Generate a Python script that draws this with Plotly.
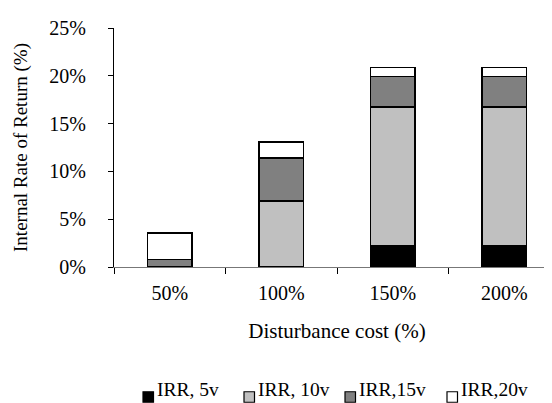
import plotly.graph_objects as go

categories = ["50%", "100%", "150%", "200%"]
irr_5v = [0.0, 0.0, 2.27, 2.27]
irr_10v = [0.0, 6.91, 14.48, 14.48]
irr_15v = [0.80, 4.47, 3.19, 3.19]
irr_20v = [2.76, 1.68, 0.94, 0.94]
series_names = ["IRR, 5v", "IRR, 10v", "IRR,15v", "IRR,20v"]
colors = ["#000000", "#c0c0c0", "#808080", "#ffffff"]

W, H = 552, 403
ML, MR, MT, MB = 106, 0, 20, 144
PW, PH = W - ML - MR, H - MT - MB

fig = go.Figure()
for name, vals, col in zip(series_names, [irr_5v, irr_10v, irr_15v, irr_20v], colors):
    fig.add_trace(go.Bar(
        x=categories, y=vals, name=name, showlegend=False,
        marker=dict(color=col, line=dict(color="#000000", width=1.5)),
    ))

font = "Liberation Serif, Times New Roman, serif"

# Manual compact legend row (Excel style)
leg_size = 19.5
leg_square_left = [135, 236, 337, 439]   # px, left edge of each key square
sq_yc = 389.0
txt_yc = 382.0
sq = 10.5

def px2x(px):
    return (px - ML) / PW

def py2y(py):
    return (H - MB - py) / PH

for name, col, x in zip(series_names, colors, leg_square_left):
    fig.add_shape(type="rect", xref="paper", yref="paper",
                  x0=px2x(x), x1=px2x(x + sq), y0=py2y(sq_yc + sq / 2), y1=py2y(sq_yc - sq / 2),
                  fillcolor=col, line=dict(color="#000000", width=1.2))
    fig.add_annotation(xref="paper", yref="paper", x=px2x(x + sq + 2), y=py2y(txt_yc),
                       xanchor="left", yanchor="middle", showarrow=False, borderpad=0,
                       text=name, font=dict(family=font, size=leg_size, color="black"))

fig.update_layout(
    barmode="stack",
    bargap=0.6,
    width=W, height=H,
    margin=dict(l=ML, r=MR, t=MT, b=MB, autoexpand=False),
    paper_bgcolor="white", plot_bgcolor="white",
    font=dict(family=font, size=20, color="black"),
    showlegend=False,
    xaxis=dict(
        showline=True, linecolor="#777777", linewidth=1,
        ticks="outside", tickson="boundaries", ticklen=6, tickcolor="#000000",
        ticklabelstandoff=8,
        title=dict(text="Disturbance cost (%)", standoff=20, font=dict(size=21)),
        showgrid=False,
    ),
    yaxis=dict(
        range=[0, 25], dtick=5, ticksuffix="%",
        showline=True, linecolor="#000000", linewidth=1,
        ticks="outside", ticklen=5, tickcolor="#000000", ticklabelstandoff=18,
        title=dict(text="Internal Rate of Return (%)", standoff=16, font=dict(size=19)),
        showgrid=False, zeroline=False,
    ),
)
fig.write_html("out.html")
